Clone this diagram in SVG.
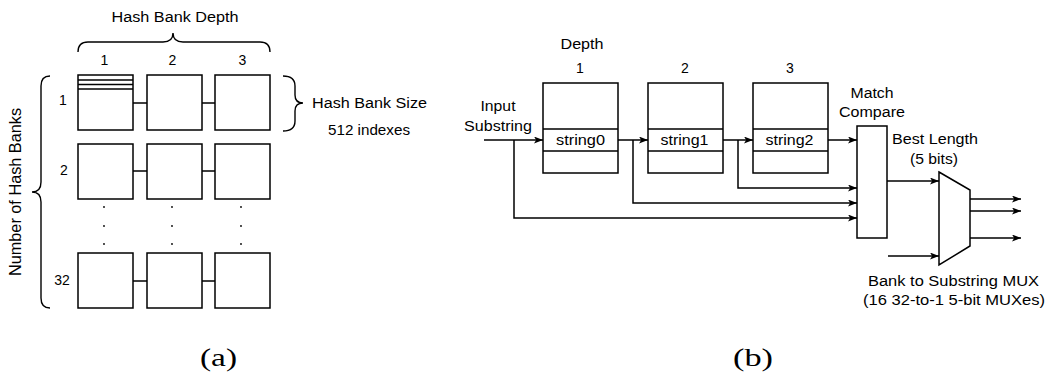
<svg xmlns="http://www.w3.org/2000/svg" width="1047" height="375" viewBox="0 0 1047 375">
<defs>
<style>
.t{font-family:"Liberation Sans",Arial,sans-serif;font-size:14px;fill:#000}
.m{text-anchor:middle}
.cap{font-family:"Liberation Serif","Times New Roman",serif;font-size:26px;fill:#000;text-anchor:middle}
.b{fill:#fff;stroke:#000;stroke-width:1.5}
.l{fill:none;stroke:#000;stroke-width:1.5}
.br{fill:none;stroke:#000;stroke-width:1.4}
.dot{fill:#000}
</style>
<marker id="ah" markerWidth="10" markerHeight="8" refX="9" refY="3.5" orient="auto" markerUnits="userSpaceOnUse">
<path d="M0,0 L9,3.5 L0,7 L2.2,3.5 z" fill="#000"/>
</marker>
</defs>
<rect width="1047" height="375" fill="#fff"/>

<!-- (a) -->
<g id="a-labels">
<text class="t m" x="175" y="22" textLength="127" lengthAdjust="spacingAndGlyphs">Hash Bank Depth</text>
<text class="t m" x="104.5" y="65">1</text>
<text class="t m" x="172.5" y="65">2</text>
<text class="t m" x="242.5" y="65">3</text>
<text class="t m" x="63" y="105">1</text>
<text class="t m" x="64" y="175">2</text>
<text class="t m" x="62" y="285">32</text>
<text class="t" x="312" y="108" textLength="115" lengthAdjust="spacingAndGlyphs">Hash Bank Size</text>
<text class="t" x="328" y="135" textLength="82" lengthAdjust="spacingAndGlyphs">512 indexes</text>
<text class="t m" transform="translate(21,192) rotate(-90) scale(1,1.2)" x="0" y="0" textLength="168" lengthAdjust="spacingAndGlyphs">Number of Hash Banks</text>
</g>
<g id="a-braces">
<path class="br" d="M78,52 Q78,42 88,42 L163,42 Q173,42 173,33 Q173,42 183,42 L260,42 Q270,42 270,52"/>
<path class="br" d="M50,76 Q41,76 41,86 L41,182 Q41,192 32,192 Q41,192 41,202 L41,298 Q41,308 50,308"/>
<path class="br" d="M283,76 Q295,76 295,86 L295,95 Q295,103 303,103 Q295,103 295,111 L295,121 Q295,131 283,131"/>
</g>
<g id="bank-1-1"><rect class="b" x="78" y="75" width="55" height="55"/><path class="l" d="M78,80 H133 M78,84.5 H133 M78,89 H133"/></g>
<g id="bank-1-2"><rect class="b" x="147" y="75" width="55" height="55"/></g>
<g id="bank-1-3"><rect class="b" x="215" y="75" width="55" height="55"/></g>
<g id="bank-2-1"><rect class="b" x="78" y="144" width="55" height="55"/></g>
<g id="bank-2-2"><rect class="b" x="147" y="144" width="55" height="55"/></g>
<g id="bank-2-3"><rect class="b" x="215" y="144" width="55" height="55"/></g>
<g id="bank-32-1"><rect class="b" x="78" y="253" width="55" height="55"/></g>
<g id="bank-32-2"><rect class="b" x="147" y="253" width="55" height="55"/></g>
<g id="bank-32-3"><rect class="b" x="215" y="253" width="55" height="55"/></g>
<g id="a-dots">
<circle class="dot" cx="104" cy="207" r="0.9"/><circle class="dot" cx="104" cy="226" r="0.9"/><circle class="dot" cx="104" cy="244" r="0.9"/>
<circle class="dot" cx="172" cy="207" r="0.9"/><circle class="dot" cx="172" cy="226" r="0.9"/><circle class="dot" cx="172" cy="244" r="0.9"/>
<circle class="dot" cx="241" cy="207" r="0.9"/><circle class="dot" cx="241" cy="226" r="0.9"/><circle class="dot" cx="241" cy="244" r="0.9"/>
</g>
<g id="a-connectors">
<path class="l" d="M133,103 H147 M202,103 H215 M133,171 H147 M202,171 H215 M133,281 H147 M202,281 H215"/>
</g>
<text class="cap" x="218.5" y="366" textLength="37" lengthAdjust="spacingAndGlyphs">(a)</text>

<!-- (b) -->
<g id="b-labels">
<text class="t m" x="582" y="49" textLength="43" lengthAdjust="spacingAndGlyphs">Depth</text>
<text class="t m" x="580" y="73">1</text>
<text class="t m" x="685" y="73">2</text>
<text class="t m" x="790" y="73">3</text>
<text class="t m" x="498" y="111" textLength="35" lengthAdjust="spacingAndGlyphs">Input</text>
<text class="t m" x="498" y="131" textLength="68" lengthAdjust="spacingAndGlyphs">Substring</text>
<text class="t m" x="872" y="98" textLength="43" lengthAdjust="spacingAndGlyphs">Match</text>
<text class="t m" x="872" y="117" textLength="66" lengthAdjust="spacingAndGlyphs">Compare</text>
<text class="t m" x="935" y="144" textLength="86" lengthAdjust="spacingAndGlyphs">Best Length</text>
<text class="t m" x="934" y="164" textLength="48" lengthAdjust="spacingAndGlyphs">(5 bits)</text>
<text class="t m" x="953.5" y="286" textLength="171" lengthAdjust="spacingAndGlyphs">Bank to Substring MUX</text>
<text class="t m" x="954" y="305" textLength="182" lengthAdjust="spacingAndGlyphs">(16 32-to-1 5-bit MUXes)</text>
</g>
<g id="depth-1"><rect class="b" x="543" y="83" width="75" height="90"/><path class="l" d="M543,129 H618 M543,151 H618"/><text class="t m" x="580.5" y="145" textLength="49" lengthAdjust="spacingAndGlyphs">string0</text></g>
<g id="depth-2"><rect class="b" x="648" y="83" width="75" height="90"/><path class="l" d="M648,129 H723 M648,151 H723"/><text class="t m" x="684.5" y="145" textLength="48" lengthAdjust="spacingAndGlyphs">string1</text></g>
<g id="depth-3"><rect class="b" x="753" y="83" width="75" height="90"/><path class="l" d="M753,129 H828 M753,151 H828"/><text class="t m" x="789.5" y="145" textLength="48" lengthAdjust="spacingAndGlyphs">string2</text></g>
<g id="match-compare"><rect class="b" x="857" y="126" width="30" height="112"/></g>
<g id="mux"><polygon class="b" points="939,172 970,190 970,246 939,265"/></g>
<g id="b-connectors">
<path class="l" d="M484,140 H543" marker-end="url(#ah)"/>
<path class="l" d="M514,140 V218 H857" marker-end="url(#ah)"/>
<path class="l" d="M618,140 H648" marker-end="url(#ah)"/>
<path class="l" d="M633,140 V203 H857" marker-end="url(#ah)"/>
<path class="l" d="M723,140 H753" marker-end="url(#ah)"/>
<path class="l" d="M738,140 V188 H857" marker-end="url(#ah)"/>
<path class="l" d="M828,140 H857" marker-end="url(#ah)"/>
<path class="l" d="M887,181 H939" marker-end="url(#ah)"/>
<path class="l" d="M888,256 H939" marker-end="url(#ah)"/>
<path class="l" d="M970,199 H1021" marker-end="url(#ah)"/>
<path class="l" d="M970,211 H1021" marker-end="url(#ah)"/>
<path class="l" d="M970,238 H1021" marker-end="url(#ah)"/>
</g>
<text class="cap" x="753" y="366" textLength="40" lengthAdjust="spacingAndGlyphs">(b)</text>
</svg>
